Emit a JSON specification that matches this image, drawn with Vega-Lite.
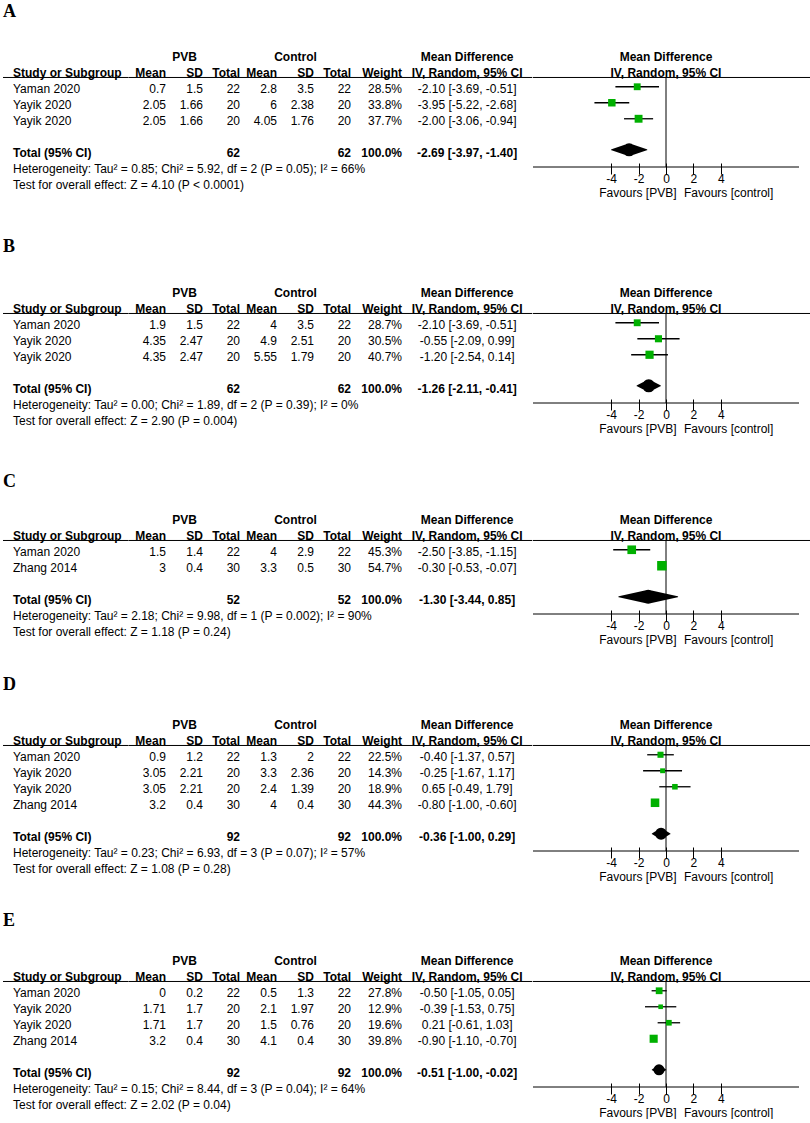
{"$schema":"https://vega.github.io/schema/vega-lite/v6.json","padding":{"left":2,"top":1,"right":0,"bottom":0},"background":"white",
"datasets":{
"hdr":[{"row":"hdr","col":"study","label":"Study or Subgroup"},{"row":"hdr","col":"pvbMean","label":"Mean"},{"row":"hdr","col":"pvbSD","label":"SD"},{"row":"hdr","col":"pvbTotal","label":"Total"},{"row":"hdr","col":"ctlMean","label":"Mean"},{"row":"hdr","col":"ctlSD","label":"SD"},{"row":"hdr","col":"ctlTotal","label":"Total"},{"row":"hdr","col":"weight","label":"Weight"},{"row":"hdr","col":"ci","label":"IV, Random, 95% CI"},{"row":"hdr","col":"forest","label":"IV, Random, 95% CI"},{"row":"grp","col":"pvbSD","label":"PVB"},{"row":"grp","col":"ctlSD","label":"Control"},{"row":"grp","col":"ci","label":"Mean Difference"},{"row":"grp","col":"forest","label":"Mean Difference"}],
"letters":[{"panel":"A"},{"panel":"B"},{"panel":"C"},{"panel":"D"},{"panel":"E"}],
"fav":[{"side":"PVB","label":"Favours [PVB]"},{"side":"control","label":"Favours [control]"}],
"A":[{"row":"1","study":"Yaman 2020","pvbMean":0.7,"pvbSD":1.5,"pvbTotal":22,"ctlMean":2.8,"ctlSD":3.5,"ctlTotal":22,"weight":0.285,"md":-2.10,"lo":-3.69,"hi":-0.51,"ci":"-2.10 [-3.69, -0.51]"},{"row":"2","study":"Yayik 2020","pvbMean":2.05,"pvbSD":1.66,"pvbTotal":20,"ctlMean":6,"ctlSD":2.38,"ctlTotal":20,"weight":0.338,"md":-3.95,"lo":-5.22,"hi":-2.68,"ci":"-3.95 [-5.22, -2.68]"},{"row":"3","study":"Yayik 2020","pvbMean":2.05,"pvbSD":1.66,"pvbTotal":20,"ctlMean":4.05,"ctlSD":1.76,"ctlTotal":20,"weight":0.377,"md":-2.00,"lo":-3.06,"hi":-0.94,"ci":"-2.00 [-3.06, -0.94]"},{"row":"tot","study":"Total (95% CI)","pvbTotal":62,"ctlTotal":62,"weight":1,"md":-2.69,"lo":-3.97,"hi":-1.40,"ci":"-2.69 [-3.97, -1.40]"},{"row":"het","study":"Heterogeneity: Tau² = 0.85; Chi² = 5.92, df = 2 (P = 0.05); I² = 66%"},{"row":"test","study":"Test for overall effect: Z = 4.10 (P < 0.0001)"}],
"B":[{"row":"1","study":"Yaman 2020","pvbMean":1.9,"pvbSD":1.5,"pvbTotal":22,"ctlMean":4,"ctlSD":3.5,"ctlTotal":22,"weight":0.287,"md":-2.10,"lo":-3.69,"hi":-0.51,"ci":"-2.10 [-3.69, -0.51]"},{"row":"2","study":"Yayik 2020","pvbMean":4.35,"pvbSD":2.47,"pvbTotal":20,"ctlMean":4.9,"ctlSD":2.51,"ctlTotal":20,"weight":0.305,"md":-0.55,"lo":-2.09,"hi":0.99,"ci":"-0.55 [-2.09, 0.99]"},{"row":"3","study":"Yayik 2020","pvbMean":4.35,"pvbSD":2.47,"pvbTotal":20,"ctlMean":5.55,"ctlSD":1.79,"ctlTotal":20,"weight":0.407,"md":-1.20,"lo":-2.54,"hi":0.14,"ci":"-1.20 [-2.54, 0.14]"},{"row":"tot","study":"Total (95% CI)","pvbTotal":62,"ctlTotal":62,"weight":1,"md":-1.26,"lo":-2.11,"hi":-0.41,"ci":"-1.26 [-2.11, -0.41]"},{"row":"het","study":"Heterogeneity: Tau² = 0.00; Chi² = 1.89, df = 2 (P = 0.39); I² = 0%"},{"row":"test","study":"Test for overall effect: Z = 2.90 (P = 0.004)"}],
"C":[{"row":"1","study":"Yaman 2020","pvbMean":1.5,"pvbSD":1.4,"pvbTotal":22,"ctlMean":4,"ctlSD":2.9,"ctlTotal":22,"weight":0.453,"md":-2.50,"lo":-3.85,"hi":-1.15,"ci":"-2.50 [-3.85, -1.15]"},{"row":"2","study":"Zhang 2014","pvbMean":3,"pvbSD":0.4,"pvbTotal":30,"ctlMean":3.3,"ctlSD":0.5,"ctlTotal":30,"weight":0.547,"md":-0.30,"lo":-0.53,"hi":-0.07,"ci":"-0.30 [-0.53, -0.07]"},{"row":"tot","study":"Total (95% CI)","pvbTotal":52,"ctlTotal":52,"weight":1,"md":-1.30,"lo":-3.44,"hi":0.85,"ci":"-1.30 [-3.44, 0.85]"},{"row":"het","study":"Heterogeneity: Tau² = 2.18; Chi² = 9.98, df = 1 (P = 0.002); I² = 90%"},{"row":"test","study":"Test for overall effect: Z = 1.18 (P = 0.24)"}],
"D":[{"row":"1","study":"Yaman 2020","pvbMean":0.9,"pvbSD":1.2,"pvbTotal":22,"ctlMean":1.3,"ctlSD":2,"ctlTotal":22,"weight":0.225,"md":-0.40,"lo":-1.37,"hi":0.57,"ci":"-0.40 [-1.37, 0.57]"},{"row":"2","study":"Yayik 2020","pvbMean":3.05,"pvbSD":2.21,"pvbTotal":20,"ctlMean":3.3,"ctlSD":2.36,"ctlTotal":20,"weight":0.143,"md":-0.25,"lo":-1.67,"hi":1.17,"ci":"-0.25 [-1.67, 1.17]"},{"row":"3","study":"Yayik 2020","pvbMean":3.05,"pvbSD":2.21,"pvbTotal":20,"ctlMean":2.4,"ctlSD":1.39,"ctlTotal":20,"weight":0.189,"md":0.65,"lo":-0.49,"hi":1.79,"ci":"0.65 [-0.49, 1.79]"},{"row":"4","study":"Zhang 2014","pvbMean":3.2,"pvbSD":0.4,"pvbTotal":30,"ctlMean":4,"ctlSD":0.4,"ctlTotal":30,"weight":0.443,"md":-0.80,"lo":-1.00,"hi":-0.60,"ci":"-0.80 [-1.00, -0.60]"},{"row":"tot","study":"Total (95% CI)","pvbTotal":92,"ctlTotal":92,"weight":1,"md":-0.36,"lo":-1.00,"hi":0.29,"ci":"-0.36 [-1.00, 0.29]"},{"row":"het","study":"Heterogeneity: Tau² = 0.23; Chi² = 6.93, df = 3 (P = 0.07); I² = 57%"},{"row":"test","study":"Test for overall effect: Z = 1.08 (P = 0.28)"}],
"E":[{"row":"1","study":"Yaman 2020","pvbMean":0,"pvbSD":0.2,"pvbTotal":22,"ctlMean":0.5,"ctlSD":1.3,"ctlTotal":22,"weight":0.278,"md":-0.50,"lo":-1.05,"hi":0.05,"ci":"-0.50 [-1.05, 0.05]"},{"row":"2","study":"Yayik 2020","pvbMean":1.71,"pvbSD":1.7,"pvbTotal":20,"ctlMean":2.1,"ctlSD":1.97,"ctlTotal":20,"weight":0.129,"md":-0.39,"lo":-1.53,"hi":0.75,"ci":"-0.39 [-1.53, 0.75]"},{"row":"3","study":"Yayik 2020","pvbMean":1.71,"pvbSD":1.7,"pvbTotal":20,"ctlMean":1.5,"ctlSD":0.76,"ctlTotal":20,"weight":0.196,"md":0.21,"lo":-0.61,"hi":1.03,"ci":"0.21 [-0.61, 1.03]"},{"row":"4","study":"Zhang 2014","pvbMean":3.2,"pvbSD":0.4,"pvbTotal":30,"ctlMean":4.1,"ctlSD":0.4,"ctlTotal":30,"weight":0.398,"md":-0.90,"lo":-1.10,"hi":-0.70,"ci":"-0.90 [-1.10, -0.70]"},{"row":"tot","study":"Total (95% CI)","pvbTotal":92,"ctlTotal":92,"weight":1,"md":-0.51,"lo":-1.00,"hi":-0.02,"ci":"-0.51 [-1.00, -0.02]"},{"row":"het","study":"Heterogeneity: Tau² = 0.15; Chi² = 8.44, df = 3 (P = 0.04); I² = 64%"},{"row":"test","study":"Test for overall effect: Z = 2.02 (P = 0.04)"}]
},
"vconcat":[
{"hconcat":[
 {"width":125.7,"height":235.6,"layer":[
  {"data":{"name":"hdr"},"transform":[{"filter":"datum.row=='hdr' && datum.col=='study'"}],"mark":{"type":"rule","color":"black"},"encoding":{"y":{"datum":"hdr","bandPosition":0.78,"scale":{"domain":["L1","L2","L3","grp","hdr","1","2","3","gap","tot","het","test","end"],"paddingInner":0,"paddingOuter":0.8625,"align":0}}}},
  {"data":{"name":"hdr"},"transform":[{"filter":"datum.col=='study'"}],"mark":{"type":"text","align":"left","dx":10,"fontWeight":"bold"},"encoding":{"x":{"datum":"study","bandPosition":0,"scale":{"type":"band","domain":["study"],"paddingInner":0,"paddingOuter":0}},"y":{"field":"row","type":"nominal"},"text":{"field":"label"}}},
  {"data":{"name":"A"},"transform":[{"filter":"datum.row!='tot'"}],"mark":{"type":"text","align":"left","dx":10},"encoding":{"x":{"datum":"study","bandPosition":0},"y":{"field":"row","type":"nominal"},"text":{"field":"study"}}},
  {"data":{"name":"A"},"transform":[{"filter":"datum.row=='tot'"}],"mark":{"type":"text","align":"left","dx":10,"fontWeight":"bold"},"encoding":{"x":{"datum":"study","bandPosition":0},"y":{"field":"row","type":"nominal"},"text":{"field":"study"}}},
  {"data":{"name":"letters"},"transform":[{"filter":"datum.panel=='A'"}],"mark":{"type":"text","align":"left","font":"Liberation Serif","fontSize":18,"fontWeight":"bold"},"encoding":{"x":{"datum":"study","bandPosition":0},"y":{"datum":"L1","bandPosition":0.69},"text":{"field":"panel"}}}
 ]},
 {"width":222,"height":235.6,"layer":[
  {"data":{"name":"hdr"},"transform":[{"filter":"datum.row=='hdr' && datum.col=='pvbMean'"}],"mark":{"type":"rule","color":"black"},"encoding":{"y":{"datum":"hdr","bandPosition":0.78,"scale":{"domain":["L1","L2","L3","grp","hdr","1","2","3","gap","tot","het","test","end"],"paddingInner":0,"paddingOuter":0.8625,"align":0}}}},
  {"data":{"name":"hdr"},"transform":[{"filter":"datum.row=='grp' && (datum.col=='pvbSD' || datum.col=='ctlSD')"}],"mark":{"type":"text","align":"center","fontWeight":"bold"},"encoding":{"x":{"field":"col","type":"nominal","bandPosition":0.5,"scale":{"type":"band","domain":["pvbMean","pvbSD","pvbTotal","ctlMean","ctlSD","ctlTotal"],"paddingInner":0,"paddingOuter":0}},"y":{"field":"row","type":"nominal"},"text":{"field":"label"}}},
  {"data":{"name":"hdr"},"transform":[{"filter":"datum.row=='hdr' && indexof(['pvbMean','pvbSD','pvbTotal','ctlMean','ctlSD','ctlTotal'], datum.col) >= 0"}],"mark":{"type":"text","align":"right","fontWeight":"bold"},"encoding":{"x":{"field":"col","type":"nominal","bandPosition":1},"y":{"field":"row","type":"nominal"},"text":{"field":"label"}}},
  {"data":{"name":"A"},"transform":[{"fold":["pvbMean","pvbSD","pvbTotal","ctlMean","ctlSD","ctlTotal"],"as":["col","value"]},{"filter":"isValid(datum.value) && datum.row!='tot'"}],"mark":{"type":"text","align":"right"},"encoding":{"x":{"field":"col","type":"nominal","bandPosition":1},"y":{"field":"row","type":"nominal"},"text":{"field":"value","type":"nominal"}}},
  {"data":{"name":"A"},"transform":[{"fold":["pvbMean","pvbSD","pvbTotal","ctlMean","ctlSD","ctlTotal"],"as":["col","value"]},{"filter":"isValid(datum.value) && datum.row=='tot'"}],"mark":{"type":"text","align":"right","fontWeight":"bold"},"encoding":{"x":{"field":"col","type":"nominal","bandPosition":1},"y":{"field":"row","type":"nominal"},"text":{"field":"value","type":"nominal"}}}
 ]},
 {"width":51,"height":235.6,"layer":[
  {"data":{"name":"hdr"},"transform":[{"filter":"datum.row=='hdr' && datum.col=='weight'"}],"mark":{"type":"rule","color":"black"},"encoding":{"y":{"datum":"hdr","bandPosition":0.78,"scale":{"domain":["L1","L2","L3","grp","hdr","1","2","3","gap","tot","het","test","end"],"paddingInner":0,"paddingOuter":0.8625,"align":0}}}},
  {"data":{"name":"hdr"},"transform":[{"filter":"datum.col=='weight'"}],"mark":{"type":"text","align":"right","fontWeight":"bold"},"encoding":{"x":{"datum":"weight","bandPosition":1,"scale":{"type":"band","domain":["weight"],"paddingInner":0,"paddingOuter":0}},"y":{"field":"row","type":"nominal"},"text":{"field":"label"}}},
  {"data":{"name":"A"},"transform":[{"filter":"isValid(datum.weight) && datum.row!='tot'"}],"mark":{"type":"text","align":"right"},"encoding":{"x":{"datum":"weight","bandPosition":1},"y":{"field":"row","type":"nominal"},"text":{"field":"weight","type":"quantitative","format":".1%"}}},
  {"data":{"name":"A"},"transform":[{"filter":"datum.row=='tot'"}],"mark":{"type":"text","align":"right","fontWeight":"bold"},"encoding":{"x":{"datum":"weight","bandPosition":1},"y":{"field":"row","type":"nominal"},"text":{"field":"weight","type":"quantitative","format":".1%"}}}
 ]},
 {"width":130.3,"height":235.6,"layer":[
  {"data":{"name":"hdr"},"transform":[{"filter":"datum.row=='hdr' && datum.col=='ci'"}],"mark":{"type":"rule","color":"black"},"encoding":{"y":{"datum":"hdr","bandPosition":0.78,"scale":{"domain":["L1","L2","L3","grp","hdr","1","2","3","gap","tot","het","test","end"],"paddingInner":0,"paddingOuter":0.8625,"align":0}}}},
  {"data":{"name":"hdr"},"transform":[{"filter":"datum.col=='ci'"}],"mark":{"type":"text","align":"center","fontWeight":"bold"},"encoding":{"x":{"datum":"ci","bandPosition":0.5,"scale":{"type":"band","domain":["ci"],"paddingInner":0,"paddingOuter":0}},"y":{"field":"row","type":"nominal"},"text":{"field":"label"}}},
  {"data":{"name":"A"},"transform":[{"filter":"isValid(datum.ci) && datum.row!='tot'"}],"mark":{"type":"text","align":"center"},"encoding":{"x":{"datum":"ci","bandPosition":0.5},"y":{"field":"row","type":"nominal"},"text":{"field":"ci"}}},
  {"data":{"name":"A"},"transform":[{"filter":"datum.row=='tot'"}],"mark":{"type":"text","align":"center","fontWeight":"bold"},"encoding":{"x":{"datum":"ci","bandPosition":0.5},"y":{"field":"row","type":"nominal"},"text":{"field":"ci"}}}
 ]},
 {"width":266,"height":235.6,"resolve":{"scale":{"size":"independent"}},"layer":[
  {"data":{"name":"hdr"},"transform":[{"filter":"datum.col=='forest' && datum.row=='hdr'"}],"mark":{"type":"rule","color":"black"},"encoding":{"x":{"datum":-9.7,"scale":{"domain":[-9.7,9.7],"nice":false,"zero":false}},"x2":{"datum":10.7},"y":{"datum":"hdr","bandPosition":0.78,"scale":{"domain":["L1","L2","L3","grp","hdr","1","2","3","gap","tot","het","test","end"],"paddingInner":0,"paddingOuter":0.8625,"align":0}}}},
  {"data":{"name":"hdr"},"transform":[{"filter":"datum.col=='forest'"}],"mark":{"type":"text","align":"center","fontWeight":"bold"},"encoding":{"x":{"datum":0},"y":{"field":"row","type":"nominal"},"text":{"field":"label"}}},
  {"data":{"name":"hdr"},"transform":[{"filter":"datum.col=='forest' && datum.row=='hdr'"}],"mark":{"type":"rule","color":"black"},"encoding":{"x":{"datum":0},"y":{"datum":"hdr","bandPosition":0.78},"y2":{"datum":"het","bandPosition":0.375}}},
  {"data":{"name":"hdr"},"transform":[{"filter":"datum.col=='forest' && datum.row=='hdr'"}],"mark":{"type":"rule","color":"black"},"encoding":{"x":{"datum":-9.7},"x2":{"datum":9.7},"y":{"datum":"het","bandPosition":0.375}}},
  {"data":{"name":"A"},"transform":[{"filter":"isValid(datum.lo) && datum.row!='tot'"}],"mark":{"type":"rule","color":"black","strokeWidth":1.3},"encoding":{"x":{"field":"lo","type":"quantitative","axis":{"values":[-4,-2,0,2,4],"title":null,"grid":false,"domain":false,"tickColor":"black","tickSize":11,"labelFont":"Liberation Sans","labelFontSize":12,"labelColor":"black","labelPadding":-1,"offset":-73.6,"labelFlush":false,"labelOverlap":false}},"x2":{"field":"hi"},"y":{"field":"row","type":"nominal","bandPosition":0.36}}},
  {"data":{"name":"A"},"transform":[{"filter":"isValid(datum.lo) && datum.row!='tot'"}],"mark":{"type":"point","shape":"square","filled":true,"color":"#00b000","opacity":1},"encoding":{"x":{"field":"md","type":"quantitative"},"y":{"field":"row","type":"nominal","bandPosition":0.36},"size":{"field":"weight","type":"quantitative","scale":{"domain":[0,1],"range":[0,165]},"legend":null}}},
  {"data":{"name":"A"},"transform":[{"filter":"datum.row=='tot'"},{"fold":["lo","md","hi"],"as":["key","value"]}],"mark":{"type":"trail","color":"black"},"encoding":{"x":{"field":"value","type":"quantitative"},"y":{"datum":"tot","bandPosition":0.3},"order":{"field":"value","type":"quantitative"},"size":{"field":"key","type":"nominal","scale":{"type":"ordinal","domain":["lo","md","hi"],"range":[0,13,0]},"legend":null}}},
  {"data":{"name":"fav"},"transform":[{"filter":"datum.side=='PVB'"}],"mark":{"type":"text","align":"right"},"encoding":{"x":{"datum":0.77},"y":{"datum":"test","bandPosition":1},"text":{"field":"label"}}},
  {"data":{"name":"fav"},"transform":[{"filter":"datum.side=='control'"}],"mark":{"type":"text","align":"left"},"encoding":{"x":{"datum":1.31},"y":{"datum":"test","bandPosition":1},"text":{"field":"label"}}}
 ]}
],"spacing":0,"bounds":"flush"},
{"hconcat":[
 {"width":125.7,"height":226.7,"layer":[
  {"data":{"name":"hdr"},"transform":[{"filter":"datum.row=='hdr' && datum.col=='study'"}],"mark":{"type":"rule","color":"black"},"encoding":{"y":{"datum":"hdr","bandPosition":0.78,"scale":{"domain":["L1","L2","L3","grp","hdr","1","2","3","gap","tot","het","test","end"],"paddingInner":0,"paddingOuter":0.584,"align":0}}}},
  {"data":{"name":"hdr"},"transform":[{"filter":"datum.col=='study'"}],"mark":{"type":"text","align":"left","dx":10,"fontWeight":"bold"},"encoding":{"x":{"datum":"study","bandPosition":0,"scale":{"type":"band","domain":["study"],"paddingInner":0,"paddingOuter":0}},"y":{"field":"row","type":"nominal"},"text":{"field":"label"}}},
  {"data":{"name":"B"},"transform":[{"filter":"datum.row!='tot'"}],"mark":{"type":"text","align":"left","dx":10},"encoding":{"x":{"datum":"study","bandPosition":0},"y":{"field":"row","type":"nominal"},"text":{"field":"study"}}},
  {"data":{"name":"B"},"transform":[{"filter":"datum.row=='tot'"}],"mark":{"type":"text","align":"left","dx":10,"fontWeight":"bold"},"encoding":{"x":{"datum":"study","bandPosition":0},"y":{"field":"row","type":"nominal"},"text":{"field":"study"}}},
  {"data":{"name":"letters"},"transform":[{"filter":"datum.panel=='B'"}],"mark":{"type":"text","align":"left","font":"Liberation Serif","fontSize":18,"fontWeight":"bold"},"encoding":{"x":{"datum":"study","bandPosition":0},"y":{"datum":"L1","bandPosition":0.65},"text":{"field":"panel"}}}
 ]},
 {"width":222,"height":226.7,"layer":[
  {"data":{"name":"hdr"},"transform":[{"filter":"datum.row=='hdr' && datum.col=='pvbMean'"}],"mark":{"type":"rule","color":"black"},"encoding":{"y":{"datum":"hdr","bandPosition":0.78,"scale":{"domain":["L1","L2","L3","grp","hdr","1","2","3","gap","tot","het","test","end"],"paddingInner":0,"paddingOuter":0.584,"align":0}}}},
  {"data":{"name":"hdr"},"transform":[{"filter":"datum.row=='grp' && (datum.col=='pvbSD' || datum.col=='ctlSD')"}],"mark":{"type":"text","align":"center","fontWeight":"bold"},"encoding":{"x":{"field":"col","type":"nominal","bandPosition":0.5,"scale":{"type":"band","domain":["pvbMean","pvbSD","pvbTotal","ctlMean","ctlSD","ctlTotal"],"paddingInner":0,"paddingOuter":0}},"y":{"field":"row","type":"nominal"},"text":{"field":"label"}}},
  {"data":{"name":"hdr"},"transform":[{"filter":"datum.row=='hdr' && indexof(['pvbMean','pvbSD','pvbTotal','ctlMean','ctlSD','ctlTotal'], datum.col) >= 0"}],"mark":{"type":"text","align":"right","fontWeight":"bold"},"encoding":{"x":{"field":"col","type":"nominal","bandPosition":1},"y":{"field":"row","type":"nominal"},"text":{"field":"label"}}},
  {"data":{"name":"B"},"transform":[{"fold":["pvbMean","pvbSD","pvbTotal","ctlMean","ctlSD","ctlTotal"],"as":["col","value"]},{"filter":"isValid(datum.value) && datum.row!='tot'"}],"mark":{"type":"text","align":"right"},"encoding":{"x":{"field":"col","type":"nominal","bandPosition":1},"y":{"field":"row","type":"nominal"},"text":{"field":"value","type":"nominal"}}},
  {"data":{"name":"B"},"transform":[{"fold":["pvbMean","pvbSD","pvbTotal","ctlMean","ctlSD","ctlTotal"],"as":["col","value"]},{"filter":"isValid(datum.value) && datum.row=='tot'"}],"mark":{"type":"text","align":"right","fontWeight":"bold"},"encoding":{"x":{"field":"col","type":"nominal","bandPosition":1},"y":{"field":"row","type":"nominal"},"text":{"field":"value","type":"nominal"}}}
 ]},
 {"width":51,"height":226.7,"layer":[
  {"data":{"name":"hdr"},"transform":[{"filter":"datum.row=='hdr' && datum.col=='weight'"}],"mark":{"type":"rule","color":"black"},"encoding":{"y":{"datum":"hdr","bandPosition":0.78,"scale":{"domain":["L1","L2","L3","grp","hdr","1","2","3","gap","tot","het","test","end"],"paddingInner":0,"paddingOuter":0.584,"align":0}}}},
  {"data":{"name":"hdr"},"transform":[{"filter":"datum.col=='weight'"}],"mark":{"type":"text","align":"right","fontWeight":"bold"},"encoding":{"x":{"datum":"weight","bandPosition":1,"scale":{"type":"band","domain":["weight"],"paddingInner":0,"paddingOuter":0}},"y":{"field":"row","type":"nominal"},"text":{"field":"label"}}},
  {"data":{"name":"B"},"transform":[{"filter":"isValid(datum.weight) && datum.row!='tot'"}],"mark":{"type":"text","align":"right"},"encoding":{"x":{"datum":"weight","bandPosition":1},"y":{"field":"row","type":"nominal"},"text":{"field":"weight","type":"quantitative","format":".1%"}}},
  {"data":{"name":"B"},"transform":[{"filter":"datum.row=='tot'"}],"mark":{"type":"text","align":"right","fontWeight":"bold"},"encoding":{"x":{"datum":"weight","bandPosition":1},"y":{"field":"row","type":"nominal"},"text":{"field":"weight","type":"quantitative","format":".1%"}}}
 ]},
 {"width":130.3,"height":226.7,"layer":[
  {"data":{"name":"hdr"},"transform":[{"filter":"datum.row=='hdr' && datum.col=='ci'"}],"mark":{"type":"rule","color":"black"},"encoding":{"y":{"datum":"hdr","bandPosition":0.78,"scale":{"domain":["L1","L2","L3","grp","hdr","1","2","3","gap","tot","het","test","end"],"paddingInner":0,"paddingOuter":0.584,"align":0}}}},
  {"data":{"name":"hdr"},"transform":[{"filter":"datum.col=='ci'"}],"mark":{"type":"text","align":"center","fontWeight":"bold"},"encoding":{"x":{"datum":"ci","bandPosition":0.5,"scale":{"type":"band","domain":["ci"],"paddingInner":0,"paddingOuter":0}},"y":{"field":"row","type":"nominal"},"text":{"field":"label"}}},
  {"data":{"name":"B"},"transform":[{"filter":"isValid(datum.ci) && datum.row!='tot'"}],"mark":{"type":"text","align":"center"},"encoding":{"x":{"datum":"ci","bandPosition":0.5},"y":{"field":"row","type":"nominal"},"text":{"field":"ci"}}},
  {"data":{"name":"B"},"transform":[{"filter":"datum.row=='tot'"}],"mark":{"type":"text","align":"center","fontWeight":"bold"},"encoding":{"x":{"datum":"ci","bandPosition":0.5},"y":{"field":"row","type":"nominal"},"text":{"field":"ci"}}}
 ]},
 {"width":266,"height":226.7,"resolve":{"scale":{"size":"independent"}},"layer":[
  {"data":{"name":"hdr"},"transform":[{"filter":"datum.col=='forest' && datum.row=='hdr'"}],"mark":{"type":"rule","color":"black"},"encoding":{"x":{"datum":-9.7,"scale":{"domain":[-9.7,9.7],"nice":false,"zero":false}},"x2":{"datum":10.7},"y":{"datum":"hdr","bandPosition":0.78,"scale":{"domain":["L1","L2","L3","grp","hdr","1","2","3","gap","tot","het","test","end"],"paddingInner":0,"paddingOuter":0.584,"align":0}}}},
  {"data":{"name":"hdr"},"transform":[{"filter":"datum.col=='forest'"}],"mark":{"type":"text","align":"center","fontWeight":"bold"},"encoding":{"x":{"datum":0},"y":{"field":"row","type":"nominal"},"text":{"field":"label"}}},
  {"data":{"name":"hdr"},"transform":[{"filter":"datum.col=='forest' && datum.row=='hdr'"}],"mark":{"type":"rule","color":"black"},"encoding":{"x":{"datum":0},"y":{"datum":"hdr","bandPosition":0.78},"y2":{"datum":"het","bandPosition":0.375}}},
  {"data":{"name":"hdr"},"transform":[{"filter":"datum.col=='forest' && datum.row=='hdr'"}],"mark":{"type":"rule","color":"black"},"encoding":{"x":{"datum":-9.7},"x2":{"datum":9.7},"y":{"datum":"het","bandPosition":0.375}}},
  {"data":{"name":"B"},"transform":[{"filter":"isValid(datum.lo) && datum.row!='tot'"}],"mark":{"type":"rule","color":"black","strokeWidth":1.3},"encoding":{"x":{"field":"lo","type":"quantitative","axis":{"values":[-4,-2,0,2,4],"title":null,"grid":false,"domain":false,"tickColor":"black","tickSize":11,"labelFont":"Liberation Sans","labelFontSize":12,"labelColor":"black","labelPadding":-1,"offset":-64.7,"labelFlush":false,"labelOverlap":false}},"x2":{"field":"hi"},"y":{"field":"row","type":"nominal","bandPosition":0.36}}},
  {"data":{"name":"B"},"transform":[{"filter":"isValid(datum.lo) && datum.row!='tot'"}],"mark":{"type":"point","shape":"square","filled":true,"color":"#00b000","opacity":1},"encoding":{"x":{"field":"md","type":"quantitative"},"y":{"field":"row","type":"nominal","bandPosition":0.36},"size":{"field":"weight","type":"quantitative","scale":{"domain":[0,1],"range":[0,165]},"legend":null}}},
  {"data":{"name":"B"},"transform":[{"filter":"datum.row=='tot'"},{"fold":["lo","md","hi"],"as":["key","value"]}],"mark":{"type":"trail","color":"black"},"encoding":{"x":{"field":"value","type":"quantitative"},"y":{"datum":"tot","bandPosition":0.3},"order":{"field":"value","type":"quantitative"},"size":{"field":"key","type":"nominal","scale":{"type":"ordinal","domain":["lo","md","hi"],"range":[0,13,0]},"legend":null}}},
  {"data":{"name":"fav"},"transform":[{"filter":"datum.side=='PVB'"}],"mark":{"type":"text","align":"right"},"encoding":{"x":{"datum":0.77},"y":{"datum":"test","bandPosition":1},"text":{"field":"label"}}},
  {"data":{"name":"fav"},"transform":[{"filter":"datum.side=='control'"}],"mark":{"type":"text","align":"left"},"encoding":{"x":{"datum":1.31},"y":{"datum":"test","bandPosition":1},"text":{"field":"label"}}}
 ]}
],"spacing":0,"bounds":"flush"},
{"hconcat":[
 {"width":125.7,"height":205,"layer":[
  {"data":{"name":"hdr"},"transform":[{"filter":"datum.row=='hdr' && datum.col=='study'"}],"mark":{"type":"rule","color":"black"},"encoding":{"y":{"datum":"hdr","bandPosition":0.78,"scale":{"domain":["L1","L2","L3","grp","hdr","1","2","gap","tot","het","test","end"],"paddingInner":0,"paddingOuter":0.406,"align":0}}}},
  {"data":{"name":"hdr"},"transform":[{"filter":"datum.col=='study'"}],"mark":{"type":"text","align":"left","dx":10,"fontWeight":"bold"},"encoding":{"x":{"datum":"study","bandPosition":0,"scale":{"type":"band","domain":["study"],"paddingInner":0,"paddingOuter":0}},"y":{"field":"row","type":"nominal"},"text":{"field":"label"}}},
  {"data":{"name":"C"},"transform":[{"filter":"datum.row!='tot'"}],"mark":{"type":"text","align":"left","dx":10},"encoding":{"x":{"datum":"study","bandPosition":0},"y":{"field":"row","type":"nominal"},"text":{"field":"study"}}},
  {"data":{"name":"C"},"transform":[{"filter":"datum.row=='tot'"}],"mark":{"type":"text","align":"left","dx":10,"fontWeight":"bold"},"encoding":{"x":{"datum":"study","bandPosition":0},"y":{"field":"row","type":"nominal"},"text":{"field":"study"}}},
  {"data":{"name":"letters"},"transform":[{"filter":"datum.panel=='C'"}],"mark":{"type":"text","align":"left","font":"Liberation Serif","fontSize":18,"fontWeight":"bold"},"encoding":{"x":{"datum":"study","bandPosition":0},"y":{"datum":"L2","bandPosition":0.15},"text":{"field":"panel"}}}
 ]},
 {"width":222,"height":205,"layer":[
  {"data":{"name":"hdr"},"transform":[{"filter":"datum.row=='hdr' && datum.col=='pvbMean'"}],"mark":{"type":"rule","color":"black"},"encoding":{"y":{"datum":"hdr","bandPosition":0.78,"scale":{"domain":["L1","L2","L3","grp","hdr","1","2","gap","tot","het","test","end"],"paddingInner":0,"paddingOuter":0.406,"align":0}}}},
  {"data":{"name":"hdr"},"transform":[{"filter":"datum.row=='grp' && (datum.col=='pvbSD' || datum.col=='ctlSD')"}],"mark":{"type":"text","align":"center","fontWeight":"bold"},"encoding":{"x":{"field":"col","type":"nominal","bandPosition":0.5,"scale":{"type":"band","domain":["pvbMean","pvbSD","pvbTotal","ctlMean","ctlSD","ctlTotal"],"paddingInner":0,"paddingOuter":0}},"y":{"field":"row","type":"nominal"},"text":{"field":"label"}}},
  {"data":{"name":"hdr"},"transform":[{"filter":"datum.row=='hdr' && indexof(['pvbMean','pvbSD','pvbTotal','ctlMean','ctlSD','ctlTotal'], datum.col) >= 0"}],"mark":{"type":"text","align":"right","fontWeight":"bold"},"encoding":{"x":{"field":"col","type":"nominal","bandPosition":1},"y":{"field":"row","type":"nominal"},"text":{"field":"label"}}},
  {"data":{"name":"C"},"transform":[{"fold":["pvbMean","pvbSD","pvbTotal","ctlMean","ctlSD","ctlTotal"],"as":["col","value"]},{"filter":"isValid(datum.value) && datum.row!='tot'"}],"mark":{"type":"text","align":"right"},"encoding":{"x":{"field":"col","type":"nominal","bandPosition":1},"y":{"field":"row","type":"nominal"},"text":{"field":"value","type":"nominal"}}},
  {"data":{"name":"C"},"transform":[{"fold":["pvbMean","pvbSD","pvbTotal","ctlMean","ctlSD","ctlTotal"],"as":["col","value"]},{"filter":"isValid(datum.value) && datum.row=='tot'"}],"mark":{"type":"text","align":"right","fontWeight":"bold"},"encoding":{"x":{"field":"col","type":"nominal","bandPosition":1},"y":{"field":"row","type":"nominal"},"text":{"field":"value","type":"nominal"}}}
 ]},
 {"width":51,"height":205,"layer":[
  {"data":{"name":"hdr"},"transform":[{"filter":"datum.row=='hdr' && datum.col=='weight'"}],"mark":{"type":"rule","color":"black"},"encoding":{"y":{"datum":"hdr","bandPosition":0.78,"scale":{"domain":["L1","L2","L3","grp","hdr","1","2","gap","tot","het","test","end"],"paddingInner":0,"paddingOuter":0.406,"align":0}}}},
  {"data":{"name":"hdr"},"transform":[{"filter":"datum.col=='weight'"}],"mark":{"type":"text","align":"right","fontWeight":"bold"},"encoding":{"x":{"datum":"weight","bandPosition":1,"scale":{"type":"band","domain":["weight"],"paddingInner":0,"paddingOuter":0}},"y":{"field":"row","type":"nominal"},"text":{"field":"label"}}},
  {"data":{"name":"C"},"transform":[{"filter":"isValid(datum.weight) && datum.row!='tot'"}],"mark":{"type":"text","align":"right"},"encoding":{"x":{"datum":"weight","bandPosition":1},"y":{"field":"row","type":"nominal"},"text":{"field":"weight","type":"quantitative","format":".1%"}}},
  {"data":{"name":"C"},"transform":[{"filter":"datum.row=='tot'"}],"mark":{"type":"text","align":"right","fontWeight":"bold"},"encoding":{"x":{"datum":"weight","bandPosition":1},"y":{"field":"row","type":"nominal"},"text":{"field":"weight","type":"quantitative","format":".1%"}}}
 ]},
 {"width":130.3,"height":205,"layer":[
  {"data":{"name":"hdr"},"transform":[{"filter":"datum.row=='hdr' && datum.col=='ci'"}],"mark":{"type":"rule","color":"black"},"encoding":{"y":{"datum":"hdr","bandPosition":0.78,"scale":{"domain":["L1","L2","L3","grp","hdr","1","2","gap","tot","het","test","end"],"paddingInner":0,"paddingOuter":0.406,"align":0}}}},
  {"data":{"name":"hdr"},"transform":[{"filter":"datum.col=='ci'"}],"mark":{"type":"text","align":"center","fontWeight":"bold"},"encoding":{"x":{"datum":"ci","bandPosition":0.5,"scale":{"type":"band","domain":["ci"],"paddingInner":0,"paddingOuter":0}},"y":{"field":"row","type":"nominal"},"text":{"field":"label"}}},
  {"data":{"name":"C"},"transform":[{"filter":"isValid(datum.ci) && datum.row!='tot'"}],"mark":{"type":"text","align":"center"},"encoding":{"x":{"datum":"ci","bandPosition":0.5},"y":{"field":"row","type":"nominal"},"text":{"field":"ci"}}},
  {"data":{"name":"C"},"transform":[{"filter":"datum.row=='tot'"}],"mark":{"type":"text","align":"center","fontWeight":"bold"},"encoding":{"x":{"datum":"ci","bandPosition":0.5},"y":{"field":"row","type":"nominal"},"text":{"field":"ci"}}}
 ]},
 {"width":266,"height":205,"resolve":{"scale":{"size":"independent"}},"layer":[
  {"data":{"name":"hdr"},"transform":[{"filter":"datum.col=='forest' && datum.row=='hdr'"}],"mark":{"type":"rule","color":"black"},"encoding":{"x":{"datum":-9.7,"scale":{"domain":[-9.7,9.7],"nice":false,"zero":false}},"x2":{"datum":10.7},"y":{"datum":"hdr","bandPosition":0.78,"scale":{"domain":["L1","L2","L3","grp","hdr","1","2","gap","tot","het","test","end"],"paddingInner":0,"paddingOuter":0.406,"align":0}}}},
  {"data":{"name":"hdr"},"transform":[{"filter":"datum.col=='forest'"}],"mark":{"type":"text","align":"center","fontWeight":"bold"},"encoding":{"x":{"datum":0},"y":{"field":"row","type":"nominal"},"text":{"field":"label"}}},
  {"data":{"name":"hdr"},"transform":[{"filter":"datum.col=='forest' && datum.row=='hdr'"}],"mark":{"type":"rule","color":"black"},"encoding":{"x":{"datum":0},"y":{"datum":"hdr","bandPosition":0.78},"y2":{"datum":"het","bandPosition":0.375}}},
  {"data":{"name":"hdr"},"transform":[{"filter":"datum.col=='forest' && datum.row=='hdr'"}],"mark":{"type":"rule","color":"black"},"encoding":{"x":{"datum":-9.7},"x2":{"datum":9.7},"y":{"datum":"het","bandPosition":0.375}}},
  {"data":{"name":"C"},"transform":[{"filter":"isValid(datum.lo) && datum.row!='tot'"}],"mark":{"type":"rule","color":"black","strokeWidth":1.3},"encoding":{"x":{"field":"lo","type":"quantitative","axis":{"values":[-4,-2,0,2,4],"title":null,"grid":false,"domain":false,"tickColor":"black","tickSize":11,"labelFont":"Liberation Sans","labelFontSize":12,"labelColor":"black","labelPadding":-1,"offset":-59,"labelFlush":false,"labelOverlap":false}},"x2":{"field":"hi"},"y":{"field":"row","type":"nominal","bandPosition":0.36}}},
  {"data":{"name":"C"},"transform":[{"filter":"isValid(datum.lo) && datum.row!='tot'"}],"mark":{"type":"point","shape":"square","filled":true,"color":"#00b000","opacity":1},"encoding":{"x":{"field":"md","type":"quantitative"},"y":{"field":"row","type":"nominal","bandPosition":0.36},"size":{"field":"weight","type":"quantitative","scale":{"domain":[0,1],"range":[0,165]},"legend":null}}},
  {"data":{"name":"C"},"transform":[{"filter":"datum.row=='tot'"},{"fold":["lo","md","hi"],"as":["key","value"]}],"mark":{"type":"trail","color":"black"},"encoding":{"x":{"field":"value","type":"quantitative"},"y":{"datum":"tot","bandPosition":0.3},"order":{"field":"value","type":"quantitative"},"size":{"field":"key","type":"nominal","scale":{"type":"ordinal","domain":["lo","md","hi"],"range":[0,14,0]},"legend":null}}},
  {"data":{"name":"fav"},"transform":[{"filter":"datum.side=='PVB'"}],"mark":{"type":"text","align":"right"},"encoding":{"x":{"datum":0.77},"y":{"datum":"test","bandPosition":1},"text":{"field":"label"}}},
  {"data":{"name":"fav"},"transform":[{"filter":"datum.side=='control'"}],"mark":{"type":"text","align":"left"},"encoding":{"x":{"datum":1.31},"y":{"datum":"test","bandPosition":1},"text":{"field":"label"}}}
 ]}
],"spacing":0,"bounds":"flush"},
{"hconcat":[
 {"width":125.7,"height":236,"layer":[
  {"data":{"name":"hdr"},"transform":[{"filter":"datum.row=='hdr' && datum.col=='study'"}],"mark":{"type":"rule","color":"black"},"encoding":{"y":{"datum":"hdr","bandPosition":0.78,"scale":{"domain":["L1","L2","L3","grp","hdr","1","2","3","4","gap","tot","het","test","end"],"paddingInner":0,"paddingOuter":0.375,"align":0}}}},
  {"data":{"name":"hdr"},"transform":[{"filter":"datum.col=='study'"}],"mark":{"type":"text","align":"left","dx":10,"fontWeight":"bold"},"encoding":{"x":{"datum":"study","bandPosition":0,"scale":{"type":"band","domain":["study"],"paddingInner":0,"paddingOuter":0}},"y":{"field":"row","type":"nominal"},"text":{"field":"label"}}},
  {"data":{"name":"D"},"transform":[{"filter":"datum.row!='tot'"}],"mark":{"type":"text","align":"left","dx":10},"encoding":{"x":{"datum":"study","bandPosition":0},"y":{"field":"row","type":"nominal"},"text":{"field":"study"}}},
  {"data":{"name":"D"},"transform":[{"filter":"datum.row=='tot'"}],"mark":{"type":"text","align":"left","dx":10,"fontWeight":"bold"},"encoding":{"x":{"datum":"study","bandPosition":0},"y":{"field":"row","type":"nominal"},"text":{"field":"study"}}},
  {"data":{"name":"letters"},"transform":[{"filter":"datum.panel=='D'"}],"mark":{"type":"text","align":"left","font":"Liberation Serif","fontSize":18,"fontWeight":"bold"},"encoding":{"x":{"datum":"study","bandPosition":0},"y":{"datum":"L1","bandPosition":0.98},"text":{"field":"panel"}}}
 ]},
 {"width":222,"height":236,"layer":[
  {"data":{"name":"hdr"},"transform":[{"filter":"datum.row=='hdr' && datum.col=='pvbMean'"}],"mark":{"type":"rule","color":"black"},"encoding":{"y":{"datum":"hdr","bandPosition":0.78,"scale":{"domain":["L1","L2","L3","grp","hdr","1","2","3","4","gap","tot","het","test","end"],"paddingInner":0,"paddingOuter":0.375,"align":0}}}},
  {"data":{"name":"hdr"},"transform":[{"filter":"datum.row=='grp' && (datum.col=='pvbSD' || datum.col=='ctlSD')"}],"mark":{"type":"text","align":"center","fontWeight":"bold"},"encoding":{"x":{"field":"col","type":"nominal","bandPosition":0.5,"scale":{"type":"band","domain":["pvbMean","pvbSD","pvbTotal","ctlMean","ctlSD","ctlTotal"],"paddingInner":0,"paddingOuter":0}},"y":{"field":"row","type":"nominal"},"text":{"field":"label"}}},
  {"data":{"name":"hdr"},"transform":[{"filter":"datum.row=='hdr' && indexof(['pvbMean','pvbSD','pvbTotal','ctlMean','ctlSD','ctlTotal'], datum.col) >= 0"}],"mark":{"type":"text","align":"right","fontWeight":"bold"},"encoding":{"x":{"field":"col","type":"nominal","bandPosition":1},"y":{"field":"row","type":"nominal"},"text":{"field":"label"}}},
  {"data":{"name":"D"},"transform":[{"fold":["pvbMean","pvbSD","pvbTotal","ctlMean","ctlSD","ctlTotal"],"as":["col","value"]},{"filter":"isValid(datum.value) && datum.row!='tot'"}],"mark":{"type":"text","align":"right"},"encoding":{"x":{"field":"col","type":"nominal","bandPosition":1},"y":{"field":"row","type":"nominal"},"text":{"field":"value","type":"nominal"}}},
  {"data":{"name":"D"},"transform":[{"fold":["pvbMean","pvbSD","pvbTotal","ctlMean","ctlSD","ctlTotal"],"as":["col","value"]},{"filter":"isValid(datum.value) && datum.row=='tot'"}],"mark":{"type":"text","align":"right","fontWeight":"bold"},"encoding":{"x":{"field":"col","type":"nominal","bandPosition":1},"y":{"field":"row","type":"nominal"},"text":{"field":"value","type":"nominal"}}}
 ]},
 {"width":51,"height":236,"layer":[
  {"data":{"name":"hdr"},"transform":[{"filter":"datum.row=='hdr' && datum.col=='weight'"}],"mark":{"type":"rule","color":"black"},"encoding":{"y":{"datum":"hdr","bandPosition":0.78,"scale":{"domain":["L1","L2","L3","grp","hdr","1","2","3","4","gap","tot","het","test","end"],"paddingInner":0,"paddingOuter":0.375,"align":0}}}},
  {"data":{"name":"hdr"},"transform":[{"filter":"datum.col=='weight'"}],"mark":{"type":"text","align":"right","fontWeight":"bold"},"encoding":{"x":{"datum":"weight","bandPosition":1,"scale":{"type":"band","domain":["weight"],"paddingInner":0,"paddingOuter":0}},"y":{"field":"row","type":"nominal"},"text":{"field":"label"}}},
  {"data":{"name":"D"},"transform":[{"filter":"isValid(datum.weight) && datum.row!='tot'"}],"mark":{"type":"text","align":"right"},"encoding":{"x":{"datum":"weight","bandPosition":1},"y":{"field":"row","type":"nominal"},"text":{"field":"weight","type":"quantitative","format":".1%"}}},
  {"data":{"name":"D"},"transform":[{"filter":"datum.row=='tot'"}],"mark":{"type":"text","align":"right","fontWeight":"bold"},"encoding":{"x":{"datum":"weight","bandPosition":1},"y":{"field":"row","type":"nominal"},"text":{"field":"weight","type":"quantitative","format":".1%"}}}
 ]},
 {"width":130.3,"height":236,"layer":[
  {"data":{"name":"hdr"},"transform":[{"filter":"datum.row=='hdr' && datum.col=='ci'"}],"mark":{"type":"rule","color":"black"},"encoding":{"y":{"datum":"hdr","bandPosition":0.78,"scale":{"domain":["L1","L2","L3","grp","hdr","1","2","3","4","gap","tot","het","test","end"],"paddingInner":0,"paddingOuter":0.375,"align":0}}}},
  {"data":{"name":"hdr"},"transform":[{"filter":"datum.col=='ci'"}],"mark":{"type":"text","align":"center","fontWeight":"bold"},"encoding":{"x":{"datum":"ci","bandPosition":0.5,"scale":{"type":"band","domain":["ci"],"paddingInner":0,"paddingOuter":0}},"y":{"field":"row","type":"nominal"},"text":{"field":"label"}}},
  {"data":{"name":"D"},"transform":[{"filter":"isValid(datum.ci) && datum.row!='tot'"}],"mark":{"type":"text","align":"center"},"encoding":{"x":{"datum":"ci","bandPosition":0.5},"y":{"field":"row","type":"nominal"},"text":{"field":"ci"}}},
  {"data":{"name":"D"},"transform":[{"filter":"datum.row=='tot'"}],"mark":{"type":"text","align":"center","fontWeight":"bold"},"encoding":{"x":{"datum":"ci","bandPosition":0.5},"y":{"field":"row","type":"nominal"},"text":{"field":"ci"}}}
 ]},
 {"width":266,"height":236,"resolve":{"scale":{"size":"independent"}},"layer":[
  {"data":{"name":"hdr"},"transform":[{"filter":"datum.col=='forest' && datum.row=='hdr'"}],"mark":{"type":"rule","color":"black"},"encoding":{"x":{"datum":-9.7,"scale":{"domain":[-9.7,9.7],"nice":false,"zero":false}},"x2":{"datum":10.7},"y":{"datum":"hdr","bandPosition":0.78,"scale":{"domain":["L1","L2","L3","grp","hdr","1","2","3","4","gap","tot","het","test","end"],"paddingInner":0,"paddingOuter":0.375,"align":0}}}},
  {"data":{"name":"hdr"},"transform":[{"filter":"datum.col=='forest'"}],"mark":{"type":"text","align":"center","fontWeight":"bold"},"encoding":{"x":{"datum":0},"y":{"field":"row","type":"nominal"},"text":{"field":"label"}}},
  {"data":{"name":"hdr"},"transform":[{"filter":"datum.col=='forest' && datum.row=='hdr'"}],"mark":{"type":"rule","color":"black"},"encoding":{"x":{"datum":0},"y":{"datum":"hdr","bandPosition":0.78},"y2":{"datum":"het","bandPosition":0.375}}},
  {"data":{"name":"hdr"},"transform":[{"filter":"datum.col=='forest' && datum.row=='hdr'"}],"mark":{"type":"rule","color":"black"},"encoding":{"x":{"datum":-9.7},"x2":{"datum":9.7},"y":{"datum":"het","bandPosition":0.375}}},
  {"data":{"name":"D"},"transform":[{"filter":"isValid(datum.lo) && datum.row!='tot'"}],"mark":{"type":"rule","color":"black","strokeWidth":1.3},"encoding":{"x":{"field":"lo","type":"quantitative","axis":{"values":[-4,-2,0,2,4],"title":null,"grid":false,"domain":false,"tickColor":"black","tickSize":11,"labelFont":"Liberation Sans","labelFontSize":12,"labelColor":"black","labelPadding":-1,"offset":-58,"labelFlush":false,"labelOverlap":false}},"x2":{"field":"hi"},"y":{"field":"row","type":"nominal","bandPosition":0.36}}},
  {"data":{"name":"D"},"transform":[{"filter":"isValid(datum.lo) && datum.row!='tot'"}],"mark":{"type":"point","shape":"square","filled":true,"color":"#00b000","opacity":1},"encoding":{"x":{"field":"md","type":"quantitative"},"y":{"field":"row","type":"nominal","bandPosition":0.36},"size":{"field":"weight","type":"quantitative","scale":{"domain":[0,1],"range":[0,165]},"legend":null}}},
  {"data":{"name":"D"},"transform":[{"filter":"datum.row=='tot'"},{"fold":["lo","md","hi"],"as":["key","value"]}],"mark":{"type":"trail","color":"black"},"encoding":{"x":{"field":"value","type":"quantitative"},"y":{"datum":"tot","bandPosition":0.3},"order":{"field":"value","type":"quantitative"},"size":{"field":"key","type":"nominal","scale":{"type":"ordinal","domain":["lo","md","hi"],"range":[0,12,0]},"legend":null}}},
  {"data":{"name":"fav"},"transform":[{"filter":"datum.side=='PVB'"}],"mark":{"type":"text","align":"right"},"encoding":{"x":{"datum":0.77},"y":{"datum":"test","bandPosition":1},"text":{"field":"label"}}},
  {"data":{"name":"fav"},"transform":[{"filter":"datum.side=='control'"}],"mark":{"type":"text","align":"left"},"encoding":{"x":{"datum":1.31},"y":{"datum":"test","bandPosition":1},"text":{"field":"label"}}}
 ]}
],"spacing":0,"bounds":"flush"},
{"hconcat":[
 {"width":125.7,"height":208,"layer":[
  {"data":{"name":"hdr"},"transform":[{"filter":"datum.row=='hdr' && datum.col=='study'"}],"mark":{"type":"rule","color":"black"},"encoding":{"y":{"datum":"hdr","bandPosition":0.78,"scale":{"domain":["L1","L2","L3","grp","hdr","1","2","3","4","gap","tot","het","test"],"paddingInner":0,"paddingOuter":0,"align":0}}}},
  {"data":{"name":"hdr"},"transform":[{"filter":"datum.col=='study'"}],"mark":{"type":"text","align":"left","dx":10,"fontWeight":"bold"},"encoding":{"x":{"datum":"study","bandPosition":0,"scale":{"type":"band","domain":["study"],"paddingInner":0,"paddingOuter":0}},"y":{"field":"row","type":"nominal"},"text":{"field":"label"}}},
  {"data":{"name":"E"},"transform":[{"filter":"datum.row!='tot'"}],"mark":{"type":"text","align":"left","dx":10},"encoding":{"x":{"datum":"study","bandPosition":0},"y":{"field":"row","type":"nominal"},"text":{"field":"study"}}},
  {"data":{"name":"E"},"transform":[{"filter":"datum.row=='tot'"}],"mark":{"type":"text","align":"left","dx":10,"fontWeight":"bold"},"encoding":{"x":{"datum":"study","bandPosition":0},"y":{"field":"row","type":"nominal"},"text":{"field":"study"}}},
  {"data":{"name":"letters"},"transform":[{"filter":"datum.panel=='E'"}],"mark":{"type":"text","align":"left","font":"Liberation Serif","fontSize":18,"fontWeight":"bold"},"encoding":{"x":{"datum":"study","bandPosition":0},"y":{"datum":"L1","bandPosition":0.98},"text":{"field":"panel"}}}
 ]},
 {"width":222,"height":208,"layer":[
  {"data":{"name":"hdr"},"transform":[{"filter":"datum.row=='hdr' && datum.col=='pvbMean'"}],"mark":{"type":"rule","color":"black"},"encoding":{"y":{"datum":"hdr","bandPosition":0.78,"scale":{"domain":["L1","L2","L3","grp","hdr","1","2","3","4","gap","tot","het","test"],"paddingInner":0,"paddingOuter":0,"align":0}}}},
  {"data":{"name":"hdr"},"transform":[{"filter":"datum.row=='grp' && (datum.col=='pvbSD' || datum.col=='ctlSD')"}],"mark":{"type":"text","align":"center","fontWeight":"bold"},"encoding":{"x":{"field":"col","type":"nominal","bandPosition":0.5,"scale":{"type":"band","domain":["pvbMean","pvbSD","pvbTotal","ctlMean","ctlSD","ctlTotal"],"paddingInner":0,"paddingOuter":0}},"y":{"field":"row","type":"nominal"},"text":{"field":"label"}}},
  {"data":{"name":"hdr"},"transform":[{"filter":"datum.row=='hdr' && indexof(['pvbMean','pvbSD','pvbTotal','ctlMean','ctlSD','ctlTotal'], datum.col) >= 0"}],"mark":{"type":"text","align":"right","fontWeight":"bold"},"encoding":{"x":{"field":"col","type":"nominal","bandPosition":1},"y":{"field":"row","type":"nominal"},"text":{"field":"label"}}},
  {"data":{"name":"E"},"transform":[{"fold":["pvbMean","pvbSD","pvbTotal","ctlMean","ctlSD","ctlTotal"],"as":["col","value"]},{"filter":"isValid(datum.value) && datum.row!='tot'"}],"mark":{"type":"text","align":"right"},"encoding":{"x":{"field":"col","type":"nominal","bandPosition":1},"y":{"field":"row","type":"nominal"},"text":{"field":"value","type":"nominal"}}},
  {"data":{"name":"E"},"transform":[{"fold":["pvbMean","pvbSD","pvbTotal","ctlMean","ctlSD","ctlTotal"],"as":["col","value"]},{"filter":"isValid(datum.value) && datum.row=='tot'"}],"mark":{"type":"text","align":"right","fontWeight":"bold"},"encoding":{"x":{"field":"col","type":"nominal","bandPosition":1},"y":{"field":"row","type":"nominal"},"text":{"field":"value","type":"nominal"}}}
 ]},
 {"width":51,"height":208,"layer":[
  {"data":{"name":"hdr"},"transform":[{"filter":"datum.row=='hdr' && datum.col=='weight'"}],"mark":{"type":"rule","color":"black"},"encoding":{"y":{"datum":"hdr","bandPosition":0.78,"scale":{"domain":["L1","L2","L3","grp","hdr","1","2","3","4","gap","tot","het","test"],"paddingInner":0,"paddingOuter":0,"align":0}}}},
  {"data":{"name":"hdr"},"transform":[{"filter":"datum.col=='weight'"}],"mark":{"type":"text","align":"right","fontWeight":"bold"},"encoding":{"x":{"datum":"weight","bandPosition":1,"scale":{"type":"band","domain":["weight"],"paddingInner":0,"paddingOuter":0}},"y":{"field":"row","type":"nominal"},"text":{"field":"label"}}},
  {"data":{"name":"E"},"transform":[{"filter":"isValid(datum.weight) && datum.row!='tot'"}],"mark":{"type":"text","align":"right"},"encoding":{"x":{"datum":"weight","bandPosition":1},"y":{"field":"row","type":"nominal"},"text":{"field":"weight","type":"quantitative","format":".1%"}}},
  {"data":{"name":"E"},"transform":[{"filter":"datum.row=='tot'"}],"mark":{"type":"text","align":"right","fontWeight":"bold"},"encoding":{"x":{"datum":"weight","bandPosition":1},"y":{"field":"row","type":"nominal"},"text":{"field":"weight","type":"quantitative","format":".1%"}}}
 ]},
 {"width":130.3,"height":208,"layer":[
  {"data":{"name":"hdr"},"transform":[{"filter":"datum.row=='hdr' && datum.col=='ci'"}],"mark":{"type":"rule","color":"black"},"encoding":{"y":{"datum":"hdr","bandPosition":0.78,"scale":{"domain":["L1","L2","L3","grp","hdr","1","2","3","4","gap","tot","het","test"],"paddingInner":0,"paddingOuter":0,"align":0}}}},
  {"data":{"name":"hdr"},"transform":[{"filter":"datum.col=='ci'"}],"mark":{"type":"text","align":"center","fontWeight":"bold"},"encoding":{"x":{"datum":"ci","bandPosition":0.5,"scale":{"type":"band","domain":["ci"],"paddingInner":0,"paddingOuter":0}},"y":{"field":"row","type":"nominal"},"text":{"field":"label"}}},
  {"data":{"name":"E"},"transform":[{"filter":"isValid(datum.ci) && datum.row!='tot'"}],"mark":{"type":"text","align":"center"},"encoding":{"x":{"datum":"ci","bandPosition":0.5},"y":{"field":"row","type":"nominal"},"text":{"field":"ci"}}},
  {"data":{"name":"E"},"transform":[{"filter":"datum.row=='tot'"}],"mark":{"type":"text","align":"center","fontWeight":"bold"},"encoding":{"x":{"datum":"ci","bandPosition":0.5},"y":{"field":"row","type":"nominal"},"text":{"field":"ci"}}}
 ]},
 {"width":266,"height":208,"resolve":{"scale":{"size":"independent"}},"layer":[
  {"data":{"name":"hdr"},"transform":[{"filter":"datum.col=='forest' && datum.row=='hdr'"}],"mark":{"type":"rule","color":"black"},"encoding":{"x":{"datum":-9.7,"scale":{"domain":[-9.7,9.7],"nice":false,"zero":false}},"x2":{"datum":10.7},"y":{"datum":"hdr","bandPosition":0.78,"scale":{"domain":["L1","L2","L3","grp","hdr","1","2","3","4","gap","tot","het","test"],"paddingInner":0,"paddingOuter":0,"align":0}}}},
  {"data":{"name":"hdr"},"transform":[{"filter":"datum.col=='forest'"}],"mark":{"type":"text","align":"center","fontWeight":"bold"},"encoding":{"x":{"datum":0},"y":{"field":"row","type":"nominal"},"text":{"field":"label"}}},
  {"data":{"name":"hdr"},"transform":[{"filter":"datum.col=='forest' && datum.row=='hdr'"}],"mark":{"type":"rule","color":"black"},"encoding":{"x":{"datum":0},"y":{"datum":"hdr","bandPosition":0.78},"y2":{"datum":"het","bandPosition":0.375}}},
  {"data":{"name":"hdr"},"transform":[{"filter":"datum.col=='forest' && datum.row=='hdr'"}],"mark":{"type":"rule","color":"black"},"encoding":{"x":{"datum":-9.7},"x2":{"datum":9.7},"y":{"datum":"het","bandPosition":0.375}}},
  {"data":{"name":"E"},"transform":[{"filter":"isValid(datum.lo) && datum.row!='tot'"}],"mark":{"type":"rule","color":"black","strokeWidth":1.3},"encoding":{"x":{"field":"lo","type":"quantitative","axis":{"values":[-4,-2,0,2,4],"title":null,"grid":false,"domain":false,"tickColor":"black","tickSize":11,"labelFont":"Liberation Sans","labelFontSize":12,"labelColor":"black","labelPadding":-1,"offset":-30,"labelFlush":false,"labelOverlap":false}},"x2":{"field":"hi"},"y":{"field":"row","type":"nominal","bandPosition":0.36}}},
  {"data":{"name":"E"},"transform":[{"filter":"isValid(datum.lo) && datum.row!='tot'"}],"mark":{"type":"point","shape":"square","filled":true,"color":"#00b000","opacity":1},"encoding":{"x":{"field":"md","type":"quantitative"},"y":{"field":"row","type":"nominal","bandPosition":0.36},"size":{"field":"weight","type":"quantitative","scale":{"domain":[0,1],"range":[0,165]},"legend":null}}},
  {"data":{"name":"E"},"transform":[{"filter":"datum.row=='tot'"},{"fold":["lo","md","hi"],"as":["key","value"]}],"mark":{"type":"trail","color":"black"},"encoding":{"x":{"field":"value","type":"quantitative"},"y":{"datum":"tot","bandPosition":0.3},"order":{"field":"value","type":"quantitative"},"size":{"field":"key","type":"nominal","scale":{"type":"ordinal","domain":["lo","md","hi"],"range":[0,11,0]},"legend":null}}},
  {"data":{"name":"fav"},"transform":[{"filter":"datum.side=='PVB'"}],"mark":{"type":"text","align":"right"},"encoding":{"x":{"datum":0.77},"y":{"datum":"test","bandPosition":1},"text":{"field":"label"}}},
  {"data":{"name":"fav"},"transform":[{"filter":"datum.side=='control'"}],"mark":{"type":"text","align":"left"},"encoding":{"x":{"datum":1.31},"y":{"datum":"test","bandPosition":1},"text":{"field":"label"}}}
 ]}
],"spacing":0,"bounds":"flush"}
],
"spacing":0,
"config":{"view":{"stroke":null},"text":{"font":"Liberation Sans","fontSize":12,"color":"black"},"axisBand":{"disable":true},"axisDiscrete":{"disable":true},"legend":{"disable":true},"locale":{"number":{"decimal":".","thousands":",","grouping":[3],"currency":["$",""],"minus":"-"}}}
}
